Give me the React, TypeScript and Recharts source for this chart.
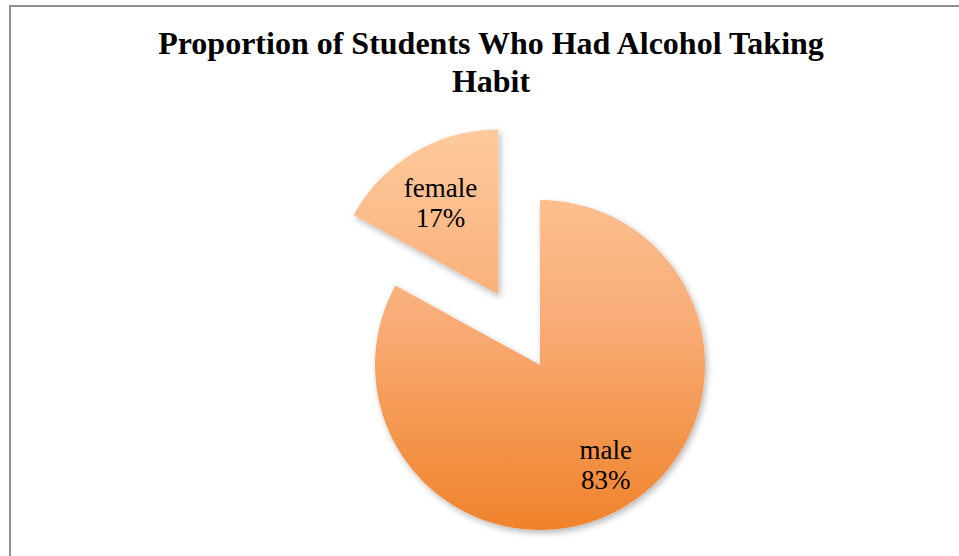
import { PieChart, Pie, Cell } from "recharts";

const CATEGORIES = ["male", "female"];
const SHARES = [83, 17];
const EXPLODED = ["female"];

const TITLE_LINES = ["Proportion of Students Who Had Alcohol Taking", "Habit"];

const WIDTH = 959;
const HEIGHT = 556;
const CX = 540;
const CY = 365;
const RADIUS = 165;
const EXPLODE = 82;
const RADIAN = Math.PI / 180;
const SERIF = '"Liberation Serif", "Times New Roman", serif';
// where each label sits, as a share of the radius, plus a small sideways nudge
const LABEL_POS: Record<string, { r: number; nx: number }> = {
  male: { r: 0.71, nx: 6 },
  female: { r: 0.64, nx: -4 },
};

const data = CATEGORIES.map((name, i) => ({ name, value: SHARES[i] }));
const total = SHARES.reduce((s, v) => s + v, 0);

// recharts angles: start at 12 o'clock, go clockwise
function midAngleOf(i: number): number {
  const before = SHARES.slice(0, i).reduce((s, v) => s + v, 0);
  return 90 - 360 * ((before + SHARES[i] / 2) / total);
}

function offsetOf(name: string) {
  const i = CATEGORIES.indexOf(name);
  if (!EXPLODED.includes(name)) return { dx: 0, dy: 0 };
  const a = midAngleOf(i) * RADIAN;
  return { dx: EXPLODE * Math.cos(a), dy: -EXPLODE * Math.sin(a) };
}

function makeLabel(only: string) {
  return (props: any) => {
    const { cx, cy, midAngle, outerRadius, percent, name } = props;
    if (name !== only) return null;
    const pos = LABEL_POS[name];
    const r = outerRadius * pos.r;
    const x = cx + r * Math.cos(-midAngle * RADIAN) + pos.nx;
    const y = cy + r * Math.sin(-midAngle * RADIAN);
    return (
      <text
        x={x}
        y={y}
        textAnchor="middle"
        fill="#000"
        style={{ fontFamily: SERIF, fontSize: 27 }}
      >
        <tspan x={x} dy={-7}>
          {name}
        </tspan>
        <tspan x={x} dy={30}>
          {`${Math.round(percent * 100)}%`}
        </tspan>
      </text>
    );
  };
}

export default function App() {
  return (
    <div
      style={{
        position: "relative",
        width: WIDTH,
        height: HEIGHT,
        overflow: "hidden",
        background: "#fff",
      }}
    >
      <style>{`body{margin:0}`}</style>
      <div
        style={{
          position: "absolute",
          left: 9,
          top: 5,
          width: 1000,
          height: 600,
          border: "2px solid #8e8e8e",
        }}
      />
      <div
        style={{
          position: "absolute",
          left: 0,
          top: 24,
          width: 982,
          textAlign: "center",
          fontFamily: SERIF,
          fontWeight: "bold",
          fontSize: 32,
          lineHeight: "38px",
          color: "#000",
        }}
      >
        {TITLE_LINES.map((t) => (
          <div key={t}>{t}</div>
        ))}
      </div>
      <div style={{ position: "absolute", left: 0, top: 0 }}>
        <PieChart width={WIDTH} height={HEIGHT} margin={{ top: 0, right: 0, bottom: 0, left: 0 }}>
          <defs>
            <linearGradient
              id="pieFill"
              gradientUnits="userSpaceOnUse"
              x1={0}
              y1={128}
              x2={0}
              y2={532}
            >
              <stop offset="0%" stopColor="#ffca9c" />
              <stop offset="45%" stopColor="#f9ae7a" />
              <stop offset="100%" stopColor="#f0822a" />
            </linearGradient>
            <filter id="shade" x="-20%" y="-20%" width="140%" height="140%">
              <feDropShadow dx={2} dy={3} stdDeviation={3} floodColor="#000" floodOpacity={0.28} />
            </filter>
          </defs>
          {CATEGORIES.map((only) => {
            const { dx, dy } = offsetOf(only);
            return (
              <Pie
                key={only}
                data={data}
                dataKey="value"
                nameKey="name"
                cx={CX + dx}
                cy={CY + dy}
                outerRadius={RADIUS}
                startAngle={90}
                endAngle={-270}
                stroke="none"
                labelLine={false}
                label={makeLabel(only)}
                isAnimationActive={false}
              >
                {data.map((d) => (
                  <Cell
                    key={d.name}
                    fill={d.name === only ? "url(#pieFill)" : "none"}
                    filter={d.name === only ? "url(#shade)" : undefined}
                  />
                ))}
              </Pie>
            );
          })}
        </PieChart>
      </div>
    </div>
  );
}
